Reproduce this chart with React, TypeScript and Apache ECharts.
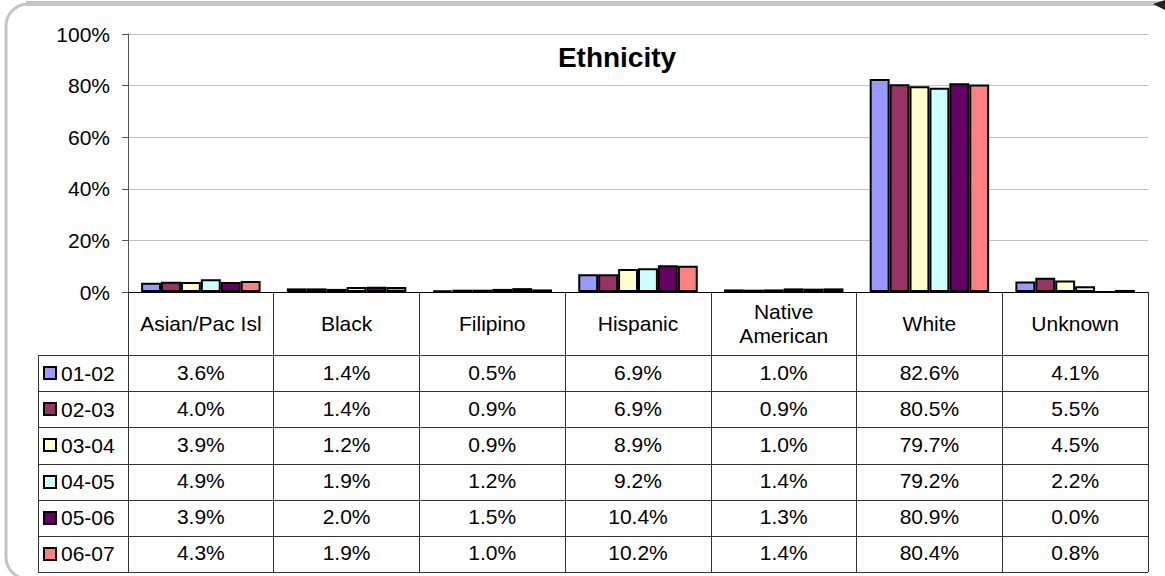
import React, { useEffect, useRef } from "react";
import * as echarts from "echarts";

const categories = ["Asian/Pac Isl", "Black", "Filipino", "Hispanic", "Native\nAmerican", "White", "Unknown"];
const seriesNames = ["01-02", "02-03", "03-04", "04-05", "05-06", "06-07"];
const v0102 = [3.6, 1.4, 0.5, 6.9, 1.0, 82.6, 4.1];
const v0203 = [4.0, 1.4, 0.9, 6.9, 0.9, 80.5, 5.5];
const v0304 = [3.9, 1.2, 0.9, 8.9, 1.0, 79.7, 4.5];
const v0405 = [4.9, 1.9, 1.2, 9.2, 1.4, 79.2, 2.2];
const v0506 = [3.9, 2.0, 1.5, 10.4, 1.3, 80.9, 0.0];
const v0607 = [4.3, 1.9, 1.0, 10.2, 1.4, 80.4, 0.8];
const seriesValues = [v0102, v0203, v0304, v0405, v0506, v0607];
const colors = ["#9999FF", "#993366", "#FFFFCC", "#CCFFFF", "#660066", "#FF8080"];
const yTicks = [0, 20, 40, 60, 80, 100];
const titleText = "Ethnicity";

const W = 1165;
const H = 576;
const FONT = "'Liberation Sans', Arial, sans-serif";
const FS = 21;

// layout
const PLOT_L = 128;
const PLOT_R = 1148;
const PLOT_T = 34;
const PLOT_B = 292;
const HEADER_B = 355;
const TABLE_B = 572;
const LEG_L = 38;
const LINE = "#333";

export default function App() {
  const ref = useRef<HTMLDivElement>(null);
  useEffect(() => {
    if (!ref.current) return;
    const chart = echarts.init(ref.current, null, { renderer: "svg", width: W, height: H });
    const colW = (PLOT_R - PLOT_L) / categories.length;
    const rowH = (TABLE_B - HEADER_B) / seriesNames.length;
    const graphics: any[] = [];
    // frame
    graphics.push({
      type: "rect",
      z: -10,
      shape: { x: 6, y: 4, width: 1190, height: 575, r: 22 },
      style: { fill: "#fff", stroke: "#c4c4c4", lineWidth: 3 },
      silent: true,
    });
    graphics.push({
      type: "rect",
      z: -9,
      shape: { x: 26, y: 1, width: 1139, height: 5 },
      style: { fill: "#c4c4c4" },
      silent: true,
    });
    graphics.push({
      type: "polygon",
      z: -8,
      shape: { points: [[1153, 4], [1165, 0], [1165, 10]] },
      style: { fill: "#222" },
      silent: true,
    });
    // title
    graphics.push({
      type: "text",
      style: {
        text: titleText,
        x: 617,
        y: 57,
        align: "center",
        verticalAlign: "middle",
        font: `bold 28px ${FONT}`,
        fill: "#000",
      },
      silent: true,
    });
    // table horizontal lines
    for (let i = 0; i <= seriesNames.length; i++) {
      const y = Math.round(HEADER_B + i * rowH) + 0.5;
      graphics.push({
        type: "line",
        shape: { x1: LEG_L, y1: y, x2: PLOT_R, y2: y },
        style: { stroke: LINE, lineWidth: 1 },
        silent: true,
      });
    }
    // left border of legend column
    graphics.push({
      type: "line",
      shape: { x1: LEG_L + 0.5, y1: HEADER_B, x2: LEG_L + 0.5, y2: TABLE_B },
      style: { stroke: LINE, lineWidth: 1 },
      silent: true,
    });
    // rows
    seriesNames.forEach((name, si) => {
      const cy = HEADER_B + si * rowH + rowH / 2;
      graphics.push({
        type: "rect",
        shape: { x: 44, y: Math.round(cy) - 6, width: 12, height: 12 },
        style: { fill: colors[si], stroke: "#000", lineWidth: 2 },
        silent: true,
      });
      graphics.push({
        type: "text",
        style: {
          text: name,
          x: 61,
          y: cy,
          align: "left",
          verticalAlign: "middle",
          font: `${FS}px ${FONT}`,
          fill: "#000",
        },
        silent: true,
      });
      seriesValues[si].forEach((v, ci) => {
        graphics.push({
          type: "text",
          style: {
            text: v.toFixed(1) + "%",
            x: PLOT_L + colW * ci + colW / 2,
            y: cy - 1,
            align: "center",
            verticalAlign: "middle",
            font: `${FS}px ${FONT}`,
            fill: "#000",
          },
          silent: true,
        });
      });
    });

    chart.setOption({
      animation: false,
      backgroundColor: "transparent",
      grid: { left: PLOT_L, right: W - PLOT_R, top: PLOT_T, bottom: H - PLOT_B, containLabel: false },
      xAxis: {
        type: "category",
        data: categories,
        axisLine: { show: true, lineStyle: { color: "#000", width: 1 } },
        axisTick: { show: true, interval: 0, length: TABLE_B - PLOT_B, lineStyle: { color: LINE, width: 1 } },
        axisLabel: {
          interval: 0,
          margin: 31,
          verticalAlign: "middle",
          lineHeight: 24,
          fontFamily: FONT,
          fontSize: FS,
          color: "#000",
        },
      },
      yAxis: {
        type: "value",
        min: yTicks[0],
        max: yTicks[yTicks.length - 1],
        interval: yTicks[1] - yTicks[0],
        axisLine: { show: true, lineStyle: { color: "#555", width: 1 } },
        axisTick: { show: true, length: 6, lineStyle: { color: "#555" } },
        axisLabel: {
          formatter: "{value}%",
          margin: 18,
          fontFamily: FONT,
          fontSize: FS,
          color: "#000",
        },
        splitLine: { show: true, lineStyle: { color: "#c0c0c0", width: 1 } },
      },
      series: seriesNames.map((name, si) => ({
        name,
        type: "bar",
        data: seriesValues[si],
        barGap: "0%",
        barCategoryGap: "18%",
        itemStyle: { color: colors[si], borderColor: "#000", borderWidth: 2 },
      })),
      graphic: graphics,
    });
    return () => chart.dispose();
  }, []);
  return (
    <div
      ref={ref}
      style={{ position: "fixed", left: 0, top: 0, width: W, height: H, background: "#fff" }}
    />
  );
}
